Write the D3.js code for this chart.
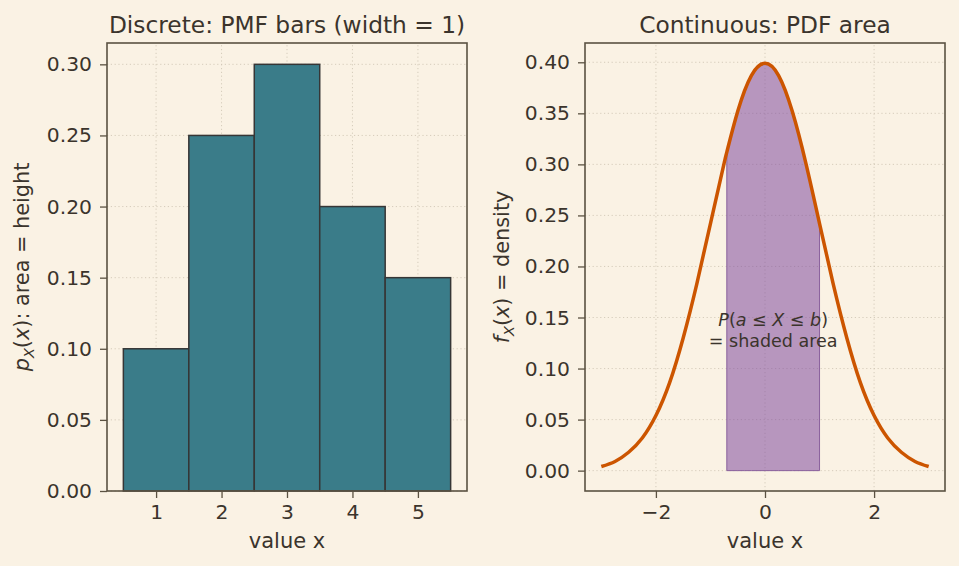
<!DOCTYPE html>
<html>
<head>
<meta charset="utf-8">
<script src="https://cdn.jsdelivr.net/npm/d3@7"></script>
<style>
  body { margin: 0; background: #faf2e4; }
  svg text { font-family: "DejaVu Sans", sans-serif; fill: #3b342c; }
</style>
</head>
<body>
<svg id="chart" width="959" height="566"></svg>
<script>
// left panel: discrete PMF
const pmfValues = [1, 2, 3, 4, 5];
const pmfProbs = [0.10, 0.25, 0.30, 0.20, 0.15];
const pmfYTicks = [0.00, 0.05, 0.10, 0.15, 0.20, 0.25, 0.30];

// right panel: continuous PDF
const pdfX = [-3, -2.75, -2.5, -2.25, -2, -1.75, -1.5, -1.25, -1, -0.75, -0.7, -0.5, -0.25, 0,
              0.25, 0.5, 0.75, 1, 1.25, 1.5, 1.75, 2, 2.25, 2.5, 2.75, 3];
const pdfY = [0.004, 0.009, 0.018, 0.032, 0.054, 0.086, 0.130, 0.183, 0.242, 0.301, 0.312, 0.352, 0.387, 0.399,
              0.387, 0.352, 0.301, 0.242, 0.183, 0.130, 0.086, 0.054, 0.032, 0.018, 0.009, 0.004];
const pdfXTicks = [-2, 0, 2];
const pdfYTicks = [0.00, 0.05, 0.10, 0.15, 0.20, 0.25, 0.30, 0.35, 0.40];
const shadeA = -0.7, shadeB = 1.0;

const ink = "#3b342c";
const spine = "#5b5242";
const svg = d3.select("#chart");

function frame(x, y, xTicks, yTicks) {
    const g = svg.append("g");
    const [x0, x1] = x.range();
    const [y0, y1] = y.range();

    // dotted grid under everything
    g.append("g").selectAll("line").data(xTicks).join("line")
        .attr("x1", d => x(d)).attr("x2", d => x(d))
        .attr("y1", y0).attr("y2", y1)
        .attr("stroke", "#cdc3b1").attr("stroke-width", 0.8).attr("stroke-dasharray", "1.2,2.6");
    g.append("g").selectAll("line").data(yTicks).join("line")
        .attr("x1", x0).attr("x2", x1)
        .attr("y1", d => y(d)).attr("y2", d => y(d))
        .attr("stroke", "#cdc3b1").attr("stroke-width", 0.8).attr("stroke-dasharray", "1.2,2.6");
    return g;
}

function axes(x, y, xTicks, yTicks, xFmt, title, xlab) {
    const [x0, x1] = x.range();
    const [y0, y1] = y.range();
    const ax = svg.append("g")
        .attr("transform", `translate(0,${y0})`)
        .call(d3.axisBottom(x).tickValues(xTicks).tickFormat(xFmt).tickSize(7).tickPadding(7));
    const ay = svg.append("g")
        .attr("transform", `translate(${x0},0)`)
        .call(d3.axisLeft(y).tickValues(yTicks).tickFormat(d3.format(".2f")).tickSize(7).tickPadding(8));
    [ax, ay].forEach(a => {
        a.select(".domain").remove();
        a.selectAll(".tick line").attr("stroke", spine).attr("stroke-width", 1.3);
        a.selectAll(".tick text").attr("fill", ink).style("font-size", "20.3px")
            .style("font-family", "DejaVu Sans, sans-serif");
    });
    svg.append("rect")
        .attr("x", x0).attr("y", y1)
        .attr("width", x1 - x0).attr("height", y0 - y1)
        .attr("fill", "none").attr("stroke", spine).attr("stroke-width", 1.6);
    svg.append("text")
        .attr("x", (x0 + x1) / 2).attr("y", 33)
        .attr("text-anchor", "middle").style("font-size", "23.3px")
        .text(title);
    svg.append("text")
        .attr("x", (x0 + x1) / 2).attr("y", 548)
        .attr("text-anchor", "middle").style("font-size", "21px")
        .text(xlab);
}

function ylabel(xpos, yc, sym, rest) {
    const t = svg.append("text")
        .attr("transform", `translate(${xpos},${yc}) rotate(-90)`)
        .attr("text-anchor", "middle").style("font-size", "20.8px");
    t.append("tspan").style("font-style", "italic").text(sym);
    t.append("tspan").attr("dy", 5).style("font-size", "14.5px").style("font-style", "italic").text("X");
    t.append("tspan").attr("dy", -5).text("(");
    t.append("tspan").style("font-style", "italic").text("x");
    t.append("tspan").text(rest);
}

// ---- left: PMF bars ----
const xL = d3.scaleLinear().domain([0.25, 5.75]).range([107, 467]);
const yL = d3.scaleLinear().domain([0, 0.315]).range([491, 43]);
frame(xL, yL, pmfValues, pmfYTicks);

svg.append("g").selectAll("rect")
    .data(pmfValues.map((v, i) => ({ v, p: pmfProbs[i] })))
    .join("rect")
    .attr("x", d => xL(d.v - 0.5))
    .attr("y", d => yL(d.p))
    .attr("width", d => xL(d.v + 0.5) - xL(d.v - 0.5))
    .attr("height", d => yL(0) - yL(d.p))
    .attr("fill", "#3a7c89")
    .attr("stroke", "#363636")
    .attr("stroke-width", 1.5);

axes(xL, yL, pmfValues, pmfYTicks, d3.format("d"), "Discrete: PMF bars (width = 1)", "value x");
ylabel(29, 267, "p", "): area = height");

// ---- right: PDF area ----
const xR = d3.scaleLinear().domain([-3.3, 3.3]).range([585, 945]);
const yR = d3.scaleLinear().domain([-0.01995, 0.4189]).range([491, 43]);
frame(xR, yR, pdfXTicks, pdfYTicks);

const pts = pdfX.map((x, i) => ({ x, y: pdfY[i] }));
const shadePts = pts.filter(d => d.x >= shadeA && d.x <= shadeB);

svg.append("path")
    .datum(shadePts)
    .attr("d", d3.area().x(d => xR(d.x)).y0(yR(0)).y1(d => yR(d.y)).curve(d3.curveNatural))
    .attr("fill", "#7f4a9e").attr("fill-opacity", 0.55)
    .attr("stroke", "#8a609c").attr("stroke-width", 1);

svg.append("path")
    .datum(pts)
    .attr("d", d3.line().x(d => xR(d.x)).y(d => yR(d.y)).curve(d3.curveNatural))
    .attr("fill", "none").attr("stroke", "#cc5500").attr("stroke-width", 3.5);

const mid = (shadeA + shadeB) / 2;
const ann = svg.append("text")
    .attr("x", xR(mid)).attr("y", 326)
    .attr("text-anchor", "middle").style("font-size", "17.5px").attr("fill", "#3a2e3c");
[["P", true], ["(", false], ["a", true], [" ≤ ", false], ["X", true], [" ≤ ", false], ["b", true], [")", false]]
    .forEach(([s, it]) => ann.append("tspan").style("font-style", it ? "italic" : "normal").text(s));
svg.append("text")
    .attr("x", xR(mid)).attr("y", 347)
    .attr("text-anchor", "middle").style("font-size", "17.5px").attr("fill", "#3a2e3c")
    .text("= shaded area");

axes(xR, yR, pdfXTicks, pdfYTicks, d3.format("d"), "Continuous: PDF area", "value x");
ylabel(509, 267, "f", ") = density");
</script>
</body>
</html>
